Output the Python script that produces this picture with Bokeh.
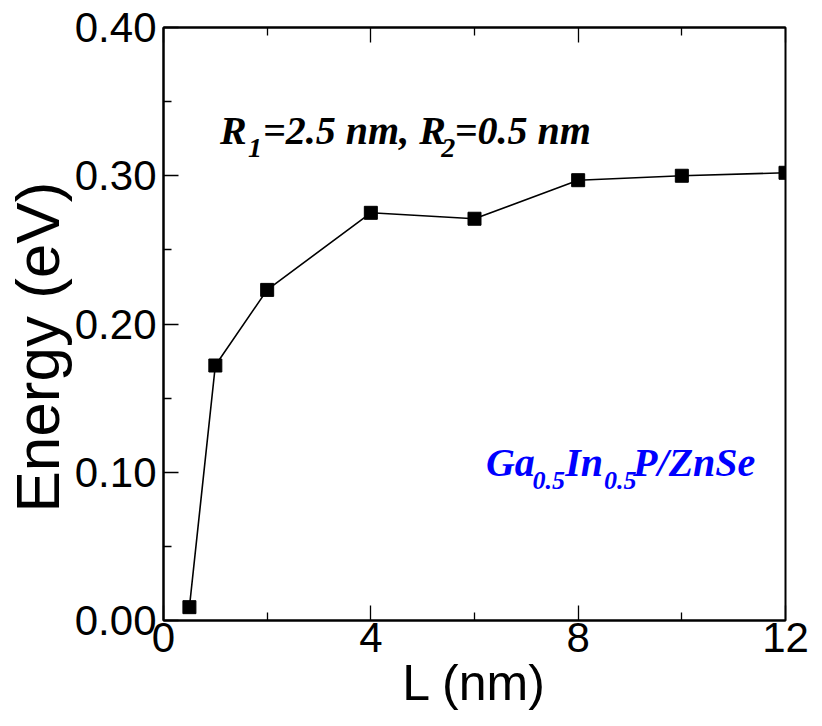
from bokeh.plotting import figure
from bokeh.models import FixedTicker, LinearAxis, Label, Range1d, Title
from bokeh.embed import file_html
from bokeh.resources import INLINE

# ---- data ----
L_nm = [0.5, 1, 2, 4, 6, 8, 10, 12]
energy_eV = [0.009, 0.172, 0.223, 0.275, 0.271, 0.297, 0.300, 0.302]

x_major = [0, 4, 8, 12]
x_minor = [2, 6, 10]
x_tick_labels = ["0", "4", "8", "12"]
y_major = [0.0, 0.1, 0.2, 0.3, 0.4]
y_minor = [0.05, 0.15, 0.25, 0.35]
y_tick_labels = ["0.00", "0.10", "0.20", "0.30", "0.40"]

x_title = "L (nm)"
y_title = "Energy (eV)"

SANS = "Liberation Sans"
SERIF = "Liberation Serif"

p = figure(width=822, height=726,
           x_range=Range1d(0, 12), y_range=Range1d(0, 0.40),
           output_backend="svg", toolbar_location=None,
           min_border_left=158, min_border_right=37,
           min_border_top=27, min_border_bottom=106)
p.grid.visible = False
p.outline_line_color = "black"
p.outline_line_width = 2
p.background_fill_color = "white"
p.border_fill_color = "white"

p.line(L_nm, energy_eV, line_color="black", line_width=1.6)
p.scatter(L_nm, energy_eV, marker="square", size=13,
          fill_color="black", line_color="black")


def style_axis(ax, major, minor, labels, show_labels=True):
    ax.ticker = FixedTicker(ticks=major, minor_ticks=minor)
    ax.major_tick_in = 15
    ax.major_tick_out = 0
    ax.minor_tick_in = 8
    ax.minor_tick_out = 0
    ax.axis_line_width = 2
    ax.major_tick_line_width = 1.3
    ax.minor_tick_line_width = 1.3
    ax.axis_line_color = "black"
    ax.major_tick_line_color = "black"
    ax.minor_tick_line_color = "black"
    ax.major_label_text_font = SANS
    ax.major_label_text_font_size = "42px"
    ax.major_label_text_color = "black"
    if show_labels:
        ax.major_label_overrides = {m: t for m, t in zip(major, labels)}
    else:
        ax.major_label_overrides = {m: "" for m in major}


xa = p.xaxis[0]
style_axis(xa, x_major, x_minor, x_tick_labels)
xa.major_label_standoff = 2
xa.axis_label = x_title
xa.axis_label_text_font = SANS
xa.axis_label_text_font_size = "50px"
xa.axis_label_text_font_style = "normal"
xa.axis_label_text_color = "black"
xa.axis_label_standoff = 0

ya = p.yaxis[0]
style_axis(ya, y_major, y_minor, y_tick_labels)
ya.major_label_standoff = 7

top = LinearAxis()
style_axis(top, x_major, x_minor, x_tick_labels, show_labels=False)
p.add_layout(top, "above")

# y title, shifted down like in the reference
p.add_layout(Title(text=y_title, align="left", offset=108, standoff=0,
                   text_font=SANS, text_font_size="62px",
                   text_font_style="normal", text_color="black"), "left")

# annotation: R1=2.5 nm, R2=0.5 nm  (pieces with subscripts)
black_pieces = [
    ("R", 1.09, 0.3305, "40px"),
    ("1", 1.63, 0.3184, "28px"),
    ("=2.5 nm, R", 1.92, 0.3305, "40px"),
    ("2", 5.36, 0.3184, "28px"),
    ("=0.5 nm", 5.62, 0.3305, "40px"),
]
for t, x, y, fs in black_pieces:
    p.add_layout(Label(x=x, y=y, text=t, text_font=SERIF,
                       text_font_style="bold italic", text_font_size=fs,
                       text_color="black", text_align="left",
                       text_baseline="alphabetic"))

# annotation: Ga0.5In0.5P/ZnSe
blue_pieces = [
    ("Ga", 6.22, 0.1066, "40px"),
    ("0.5", 7.12, 0.0944, "26px"),
    ("In", 7.75, 0.1066, "40px"),
    ("0.5", 8.50, 0.0944, "26px"),
    ("P/ZnSe", 9.06, 0.1066, "40px"),
]
for t, x, y, fs in blue_pieces:
    p.add_layout(Label(x=x, y=y, text=t, text_font=SERIF,
                       text_font_style="bold italic", text_font_size=fs,
                       text_color="#0000ff", text_align="left",
                       text_baseline="alphabetic"))

open("out.html", "w").write(file_html(p, INLINE))
